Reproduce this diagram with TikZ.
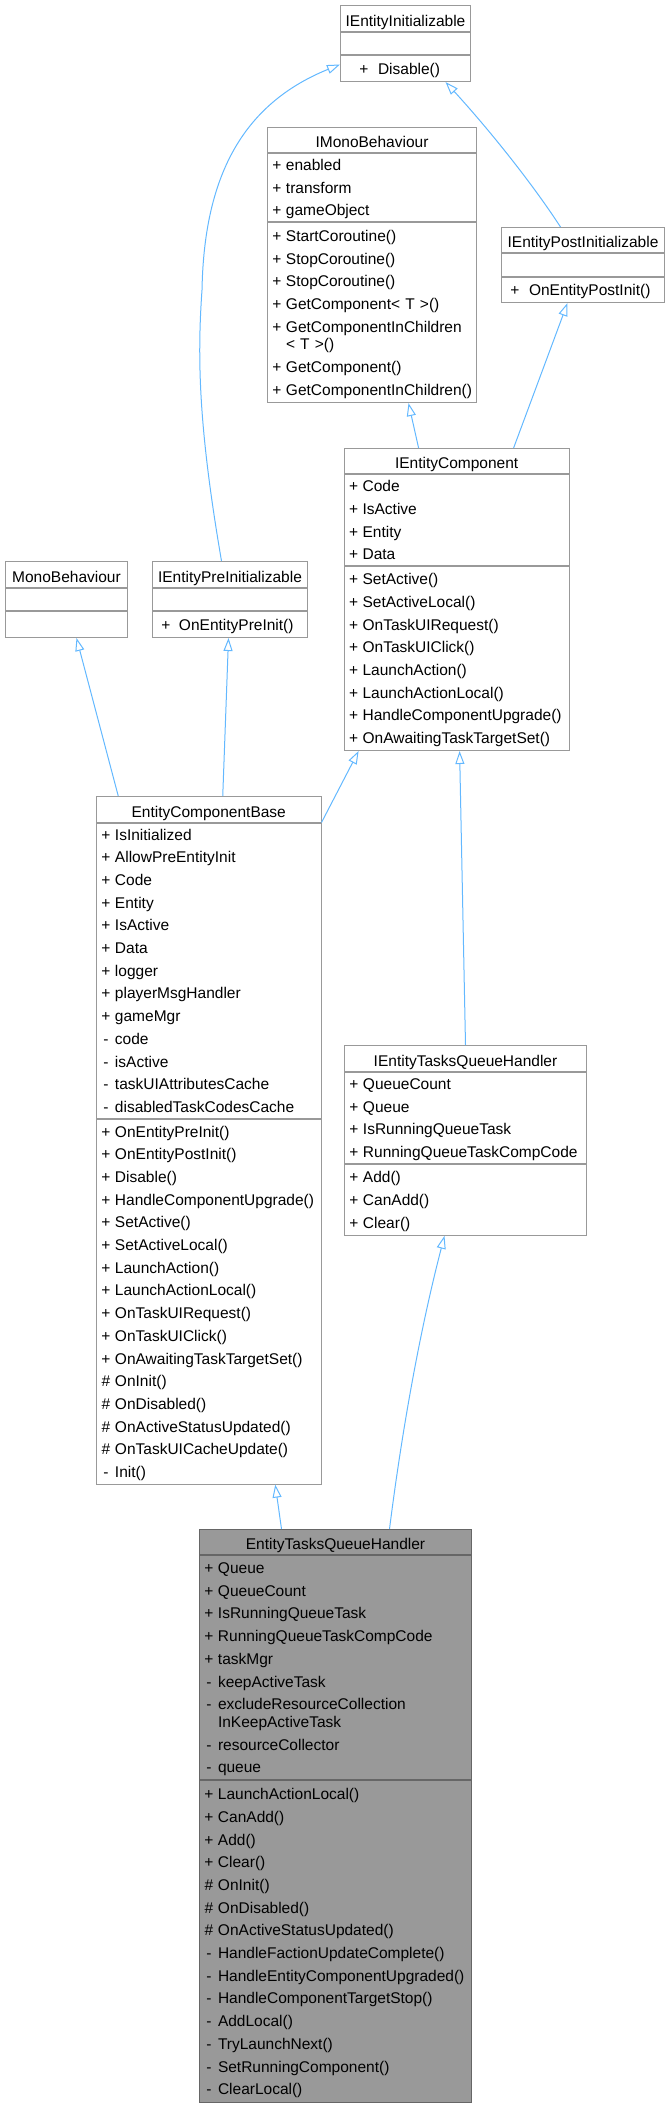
\documentclass[tikz,border=0pt]{standalone}
\usepackage{fontspec}
\setmainfont{Liberation Sans}
\usepackage{xcolor}
\usepackage{tikz}
\usetikzlibrary{positioning, arrows.meta, calc}
\definecolor{edgeblue}{HTML}{63B8FF}
\definecolor{boxline}{HTML}{999999}
\definecolor{focusline}{HTML}{666666}
\definecolor{focusfill}{HTML}{999999}
\newcommand{\umlfont}{\fontsize{15.5pt}{22.7pt}\selectfont}
\newcommand{\rowstrut}{\rule[-5.7pt]{0pt}{22.7pt}}
\newcommand{\titlestrut}{\rule[-3pt]{0pt}{22pt}}
\newcommand{\mem}[2]{\rowstrut\makebox[10pt][c]{#1}\kern4pt #2}
\tikzset{
  classtitle/.style={
    rectangle,
    draw=boxline,
    fill=white,
    line width=1pt,
    anchor=north west,
    inner xsep=4.5pt,
    inner ysep=0pt,
    align=center,
    font=\umlfont
  },
  classpart/.style={
    rectangle,
    draw=boxline,
    fill=white,
    line width=1pt,
    inner xsep=4.5pt,
    inner ysep=0pt,
    align=left,
    font=\umlfont
  },
  focusbox/.style={
    draw=focusline,
    fill=focusfill
  },
  inheritarrow/.style={
    draw=edgeblue,
    line width=1pt,
    -{Triangle[open, length=13pt, width=9pt]}
  }
}

\begin{document}
\begin{tikzpicture}[x=1pt, y=-1pt]
  \useasboundingbox (0,0) rectangle (665,2103);

  \node[classtitle, minimum width=130pt, minimum height=26pt] (ieinit) at (340,5)
    {\titlestrut IEntityInitializable};
  \node[classpart, text width=121pt, minimum height=22pt, below=0pt of ieinit] (ieinit-a) {};
  \node[classpart, text width=121pt, minimum height=26pt, below=0pt of ieinit-a] (ieinit-m)
    {\kern14pt\mem{+}{\kern5pt Disable()}};

  \node[classtitle, minimum width=209pt, minimum height=25pt] (imono) at (267,127)
    {\titlestrut IMonoBehaviour};
  \node[classpart, text width=200pt, minimum height=68pt, below=0pt of imono] (imono-a)
    {\mem{+}{enabled}\\ \mem{+}{transform}\\ \mem{+}{gameObject}};
  \node[classpart, text width=200pt, minimum height=180pt, below=0pt of imono-a] (imono-m)
    {\mem{+}{StartCoroutine()}\\ \mem{+}{StopCoroutine()}\\ \mem{+}{StopCoroutine()}\\
     \mem{+}{GetComponent< T >()}\\ \mem{+}{GetComponentInChildren}\\[-5pt] \mem{}{< T >()}\\
     \mem{+}{GetComponent()}\\ \mem{+}{GetComponentInChildren()}};

  \node[classtitle, minimum width=163pt, minimum height=25pt] (iepost) at (501,227)
    {\titlestrut IEntityPostInitializable};
  \node[classpart, text width=154pt, minimum height=23pt, below=0pt of iepost] (iepost-a) {};
  \node[classpart, text width=154pt, minimum height=25pt, below=0pt of iepost-a] (iepost-m)
    {\kern4pt\mem{+}{\kern5pt OnEntityPostInit()}};

  \node[classtitle, minimum width=225pt, minimum height=25pt] (iecomp) at (343.6,448)
    {\titlestrut IEntityComponent};
  \node[classpart, text width=216pt, minimum height=91pt, below=0pt of iecomp] (iecomp-a)
    {\mem{+}{Code}\\ \mem{+}{IsActive}\\ \mem{+}{Entity}\\ \mem{+}{Data}};
  \node[classpart, text width=216pt, minimum height=184pt, below=0pt of iecomp-a] (iecomp-m)
    {\mem{+}{SetActive()}\\ \mem{+}{SetActiveLocal()}\\ \mem{+}{OnTaskUIRequest()}\\
     \mem{+}{OnTaskUIClick()}\\ \mem{+}{LaunchAction()}\\ \mem{+}{LaunchActionLocal()}\\
     \mem{+}{HandleComponentUpgrade()}\\ \mem{+}{OnAwaitingTaskTargetSet()}};

  \node[classtitle, minimum width=122pt, minimum height=26pt] (mono) at (5,561)
    {\titlestrut MonoBehaviour};
  \node[classpart, text width=113pt, minimum height=22pt, below=0pt of mono] (mono-a) {};
  \node[classpart, text width=113pt, minimum height=26pt, below=0pt of mono-a] (mono-m) {};

  \node[classtitle, minimum width=155pt, minimum height=26pt] (iepre) at (152,561)
    {\titlestrut IEntityPreInitializable};
  \node[classpart, text width=146pt, minimum height=22pt, below=0pt of iepre] (iepre-a) {};
  \node[classpart, text width=146pt, minimum height=26pt, below=0pt of iepre-a] (iepre-m)
    {\kern4pt\mem{+}{\kern4pt OnEntityPreInit()}};

  \node[classtitle, minimum width=224.5pt, minimum height=25.5pt] (ecb) at (96,796)
    {\titlestrut EntityComponentBase};
  \node[classpart, text width=215.5pt, minimum height=294.5pt, below=0pt of ecb] (ecb-a)
    {\mem{+}{IsInitialized}\\ \mem{+}{AllowPreEntityInit}\\ \mem{+}{Code}\\ \mem{+}{Entity}\\
     \mem{+}{IsActive}\\ \mem{+}{Data}\\ \mem{+}{logger}\\ \mem{+}{playerMsgHandler}\\
     \mem{+}{gameMgr}\\ \mem{-}{code}\\ \mem{-}{isActive}\\ \mem{-}{taskUIAttributesCache}\\
     \mem{-}{disabledTaskCodesCache}};
  \node[classpart, text width=215.5pt, minimum height=365pt, below=0pt of ecb-a] (ecb-m)
    {\mem{+}{OnEntityPreInit()}\\ \mem{+}{OnEntityPostInit()}\\ \mem{+}{Disable()}\\
     \mem{+}{HandleComponentUpgrade()}\\ \mem{+}{SetActive()}\\ \mem{+}{SetActiveLocal()}\\
     \mem{+}{LaunchAction()}\\ \mem{+}{LaunchActionLocal()}\\ \mem{+}{OnTaskUIRequest()}\\
     \mem{+}{OnTaskUIClick()}\\ \mem{+}{OnAwaitingTaskTargetSet()}\\ \mem{\#}{OnInit()}\\
     \mem{\#}{OnDisabled()}\\ \mem{\#}{OnActiveStatusUpdated()}\\ \mem{\#}{OnTaskUICacheUpdate()}\\
     \mem{-}{Init()}};

  \node[classtitle, minimum width=242pt, minimum height=26pt] (ietqh) at (344,1045)
    {\titlestrut IEntityTasksQueueHandler};
  \node[classpart, text width=233pt, minimum height=90pt, below=0pt of ietqh] (ietqh-a)
    {\mem{+}{QueueCount}\\ \mem{+}{Queue}\\ \mem{+}{IsRunningQueueTask}\\
     \mem{+}{RunningQueueTaskCompCode}};
  \node[classpart, text width=233pt, minimum height=71pt, below=0pt of ietqh-a] (ietqh-m)
    {\mem{+}{Add()}\\ \mem{+}{CanAdd()}\\ \mem{+}{Clear()}};

  \node[classtitle, focusbox, minimum width=272pt, minimum height=25pt] (etqh) at (199,1529)
    {\titlestrut EntityTasksQueueHandler};
  \node[classpart, focusbox, text width=263pt, minimum height=224pt, below=0pt of etqh] (etqh-a)
    {\mem{+}{Queue}\\ \mem{+}{QueueCount}\\ \mem{+}{IsRunningQueueTask}\\
     \mem{+}{RunningQueueTaskCompCode}\\ \mem{+}{taskMgr}\\ \mem{-}{keepActiveTask}\\
     \mem{-}{excludeResourceCollection}\\[-5pt] \mem{}{InKeepActiveTask}\\
     \mem{-}{resourceCollector}\\ \mem{-}{queue}};
  \node[classpart, focusbox, text width=263pt, minimum height=322pt, below=0pt of etqh-a] (etqh-m)
    {\mem{+}{LaunchActionLocal()}\\ \mem{+}{CanAdd()}\\ \mem{+}{Add()}\\ \mem{+}{Clear()}\\
     \mem{\#}{OnInit()}\\ \mem{\#}{OnDisabled()}\\ \mem{\#}{OnActiveStatusUpdated()}\\
     \mem{-}{HandleFactionUpdateComplete()}\\ \mem{-}{HandleEntityComponentUpgraded()}\\
     \mem{-}{HandleComponentTargetStop()}\\ \mem{-}{AddLocal()}\\ \mem{-}{TryLaunchNext()}\\
     \mem{-}{SetRunningComponent()}\\ \mem{-}{ClearLocal()}};

  \draw[inheritarrow] ([xshift=-8.5pt]iepre.north) .. controls (199,430) and (197,360) .. (202,290)
    .. controls (204,180) and (240,105) .. ([yshift=4pt]ieinit-m.west);
  \draw[inheritarrow] ([xshift=-22.5pt]iepost.north) .. controls (530,180) and (485,125)
    .. ([xshift=40pt]ieinit-m.south);
  \draw[inheritarrow] ([xshift=-38pt]iecomp.north) -- ([xshift=36.5pt]imono-m.south);
  \draw[inheritarrow] ([xshift=57pt]iecomp.north) -- ([xshift=-15.5pt]iepost-m.south);
  \draw[inheritarrow] ([xshift=-90.5pt]ecb.north) -- ([xshift=10pt]mono-m.south);
  \draw[inheritarrow] ([xshift=14pt]ecb.north) -- ([xshift=-1.5pt]iepre-m.south);
  \draw[inheritarrow] (ecb.south east) -- ([xshift=-98pt]iecomp-m.south);
  \draw[inheritarrow] (ietqh.north) -- ([xshift=3pt]iecomp-m.south);
  \draw[inheritarrow] ([xshift=-54pt]etqh.north) -- ([xshift=66.5pt]ecb-m.south);
  \draw[inheritarrow] ([xshift=54pt]etqh.north) .. controls (402,1430) and (420,1330)
    .. ([xshift=-21pt]ietqh-m.south);
\end{tikzpicture}
\end{document}
